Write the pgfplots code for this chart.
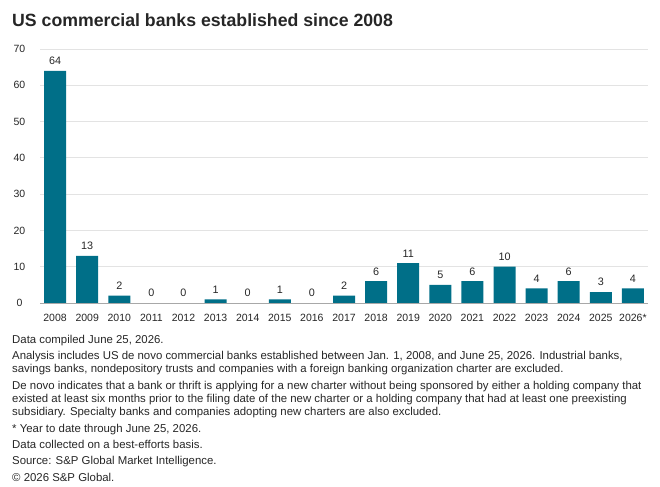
\documentclass[border=0pt]{standalone}
\usepackage{pgfplots}
\pgfplotsset{compat=1.18}
\usepackage{fontspec}
\setmainfont{Liberation Sans}
\definecolor{barc}{HTML}{006F88}
\definecolor{gridc}{HTML}{E3E3E3}
\definecolor{axisc}{HTML}{A8A8A8}
\definecolor{txt}{HTML}{262626}
\begin{document}
\begin{tikzpicture}
\useasboundingbox (-40bp,-184bp) rectangle (620bp,303bp);
\begin{axis}[
  at={(0,0)}, anchor=south west,
  scale only axis, width=608bp, height=254bp,
  ymin=0, ymax=70, ytick={0,10,...,70},
  xmin=-0.47, xmax=18.47,
  xtick={0,...,18},
  xticklabels={2008,2009,2010,2011,2012,2013,2014,2015,2016,2017,2018,2019,2020,2021,2022,2023,2024,2025,2026*},
  major tick length=0pt,
  axis line style={draw=none},
  ymajorgrids, grid style={gridc, line width=0.9bp},
  /pgf/number format/assume math mode=true,
  tick label style={font=\fontsize{10.5bp}{12bp}\selectfont, text=txt},
  yticklabel style={anchor=center, xshift=-20.5bp},
  xticklabel style={anchor=center, yshift=-15bp},
  ybar, bar width=22bp,
  nodes near coords,
  every node near coord/.append style={font=\fontsize{10.8bp}{12bp}\selectfont, text=txt, yshift=2.5bp},
  clip=false,
]
\addplot[fill=barc, draw=none] coordinates {
(0,64) (1,13) (2,2) (3,0) (4,0) (5,1) (6,0) (7,1) (8,0) (9,2)
(10,6) (11,11) (12,5) (13,6) (14,10) (15,4) (16,6) (17,3) (18,4)};
\draw[axisc, line width=0.9bp] (axis cs:-0.47,0) -- (axis cs:18.47,0);
\end{axis}
\node[anchor=base west, font=\bfseries\fontsize{17.7bp}{20bp}\selectfont, text=txt, inner sep=0] at (-28bp,276bp) {US commercial banks established since 2008};
\begin{scope}[every node/.style={anchor=base west, inner sep=0, text=txt, font=\fontsize{11.4bp}{13bp}\selectfont}]
\node at (-28bp,-40bp) {Data compiled June 25, 2026.};
\node at (-28bp,-56bp) {Analysis includes US de novo commercial banks established between Jan. 1, 2008, and June 25, 2026. Industrial banks,};
\node at (-28bp,-69bp) {savings banks, nondepository trusts and companies with a foreign banking organization charter are excluded.};
\node at (-28bp,-86bp) {De novo indicates that a bank or thrift is applying for a new charter without being sponsored by either a holding company that};
\node at (-28bp,-99bp) {existed at least six months prior to the filing date of the new charter or a holding company that had at least one preexisting};
\node at (-28bp,-112bp) {subsidiary. Specialty banks and companies adopting new charters are also excluded.};
\node at (-28bp,-129bp) {* Year to date through June 25, 2026.};
\node at (-28bp,-145bp) {Data collected on a best-efforts basis.};
\node at (-28bp,-161bp) {Source: S\&P Global Market Intelligence.};
\node at (-28bp,-178bp) {\textcopyright{} 2026 S\&P Global.};
\end{scope}
\end{tikzpicture}
\end{document}
